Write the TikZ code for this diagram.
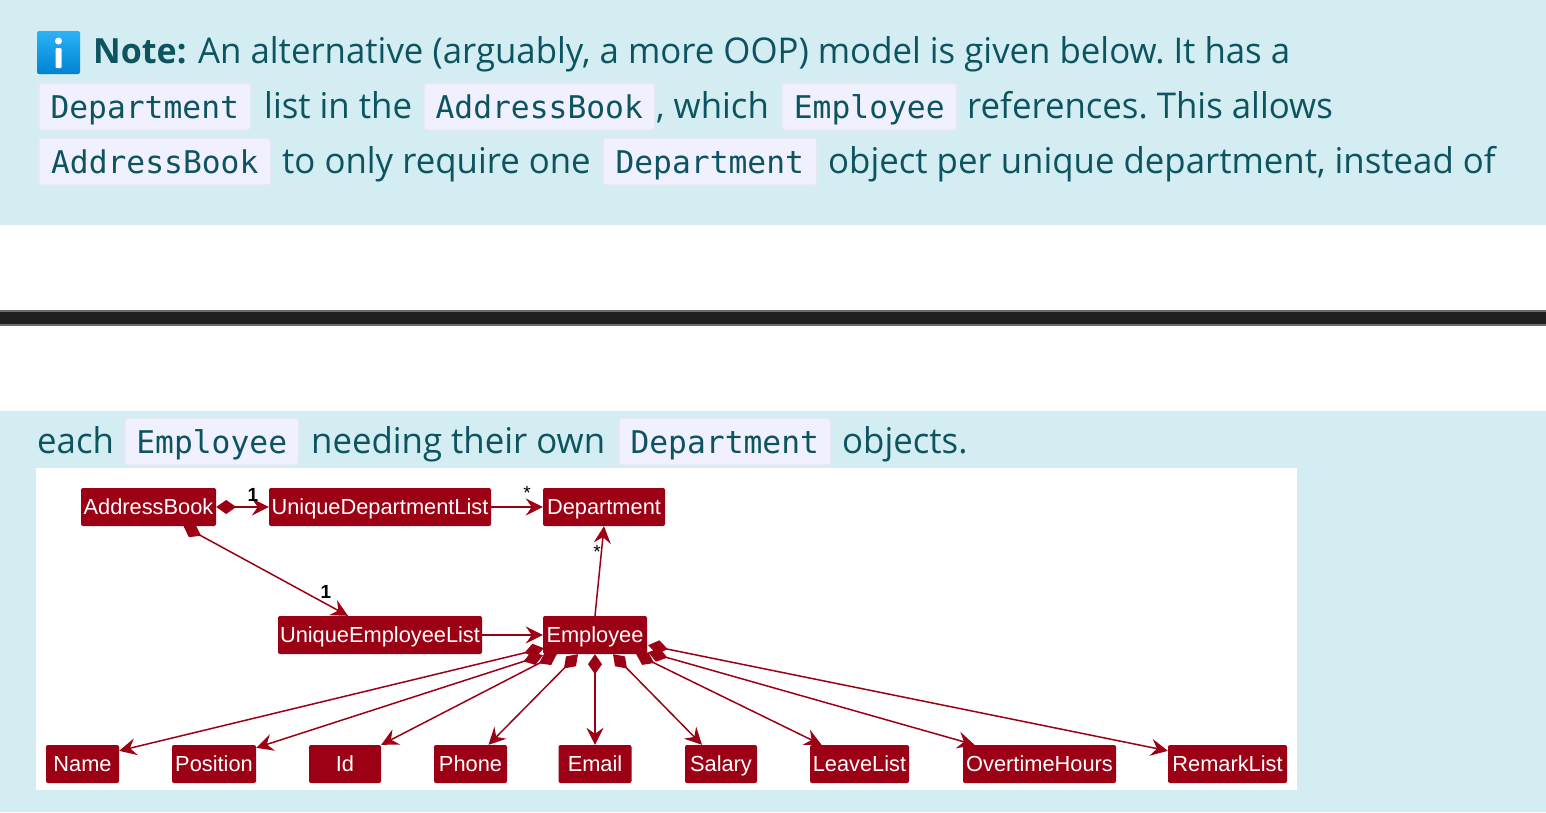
\documentclass[tikz,border=0pt]{standalone}
\usepackage{fontspec}
\setmainfont[FakeStretch=0.98]{Open Sans}
\setsansfont{Liberation Sans}
\setmonofont{DejaVu Sans Mono}
\usetikzlibrary{positioning, arrows.meta}
\definecolor{noteband}{HTML}{D4EDF2}
\definecolor{notetext}{HTML}{0C5460}
\definecolor{chipfill}{HTML}{F0F0FF}
\definecolor{chipline}{HTML}{E6E8F0}
\definecolor{umlred}{HTML}{9C0014}
\definecolor{iconhi}{HTML}{2BB3F6}
\definecolor{iconlo}{HTML}{0082D2}
\frenchspacing

\begin{document}
\begin{tikzpicture}[
    x=1pt, y=-1pt,
    para/.style={
        anchor=base west, inner sep=0pt, text=notetext,
        font=\rmfamily\fontsize{35.5}{35.5}\selectfont,
    },
    chip/.style={
        anchor=base west, draw=chipline, fill=chipfill, text=notetext, line width=1.5pt,
        rounded corners=3pt, inner xsep=0pt, inner ysep=0pt,
        text height=35pt, text depth=12pt, align=center,
        font=\ttfamily\fontsize{31.3}{31.3}\selectfont,
    },
    cls/.style={
        fill=umlred, text=white, rounded corners=2pt, inner sep=0pt,
        text height=26pt, text depth=12pt, align=center,
        font=\sffamily\fontsize{21.8}{21.8}\selectfont,
    },
    assoc/.style={-{Stealth[length=17pt, width=17pt, inset=6pt]}, line width=1.5pt, draw=umlred},
    comp/.style={
        {Diamond[length=20pt, width=14pt]}-{Stealth[length=17pt, width=17pt, inset=6pt]},
        line width=1.5pt, draw=umlred,
    },
    mult/.style={inner sep=0pt, text=black, font=\sffamily\fontsize{19}{19}\selectfont},
]
\useasboundingbox (0, 0) rectangle (1546, 812);

% ===== Bands and page break =====
\fill[noteband] (0, 0) rectangle (1546, 225);
\fill[noteband] (0, 411) rectangle (1546, 812);
\fill[black!58] (0, 310) rectangle (1546, 326);
\fill[black!88] (0, 312) rectangle (1546, 324);
\fill[white] (36, 468) rectangle (1297, 790);

% ===== Info icon =====
\shade[top color=iconhi, bottom color=iconlo, rounded corners=2pt] (37, 31) rectangle (80, 74);
\fill[white] (58.5, 41) circle (3.5);
\fill[white, rounded corners=1pt] (55.5, 48) rectangle (61.5, 68);

% ===== Note text =====
\node[para, font=\rmfamily\bfseries\fontsize{34.7}{34.7}\selectfont] (noteword) at (93, 63) {Note:};
\node[para] (lineone) at (198, 63) {An alternative (arguably, a more OOP) model is given below. It has a};

\node[chip, minimum width=212pt] (deptone) at (38, 118) {Department};
\node[para] (listin) at (264, 118) {list in the};
\node[chip, minimum width=231pt] (bookone) at (423, 118) {AddressBook};
\node[para] (which) at (656, 118) {, which};
\node[chip, minimum width=175pt] (empone) at (781, 118) {Employee};
\node[para] (refs) at (967, 118) {references. This allows};

\node[chip, minimum width=232pt] (booktwo) at (38, 173) {AddressBook};
\node[para] (torequire) at (282, 173) {to only require one};
\node[chip, minimum width=214pt] (depttwo) at (602, 173) {Department};
\node[para] (perunique) at (828, 173) {object per unique department, instead of};

\node[para] (each) at (37, 453) {each};
\node[chip, minimum width=174pt] (emptwo) at (124, 453) {Employee};
\node[para] (needing) at (311, 453) {needing their own};
\node[chip, minimum width=212pt] (deptthree) at (618, 453) {Department};
\node[para] (objects) at (842, 453) {objects.};

% ===== Class boxes =====
\node[cls, minimum width=135pt] (book)  at (148.5, 507) {AddressBook};
\node[cls, minimum width=222pt] (udl)   at (380, 507)   {UniqueDepartmentList};
\node[cls, minimum width=122pt] (dept)  at (604, 507)   {Department};
\node[cls, minimum width=204pt] (uel)   at (380, 635)   {UniqueEmployeeList};
\node[cls, minimum width=104pt] (emp)   at (595, 635)   {Employee};

\node[cls, minimum width=73pt]  (name)     at (82.5, 764)   {Name};
\node[cls, minimum width=84pt]  (position) at (214, 764)    {Position};
\node[cls, minimum width=72pt]  (idbox)    at (345, 764)    {Id};
\node[cls, minimum width=73pt]  (phone)    at (470.5, 764)  {Phone};
\node[cls, minimum width=73pt]  (email)    at (595, 764)    {Email};
\node[cls, minimum width=72pt]  (salary)   at (721, 764)    {Salary};
\node[cls, minimum width=99pt]  (leave)    at (859.5, 764)  {LeaveList};
\node[cls, minimum width=153pt] (overtime) at (1039.5, 764) {OvertimeHours};
\node[cls, minimum width=119pt] (remark)   at (1227.5, 764) {RemarkList};

% ===== Connectors =====
\draw[comp] (book.east) -- (udl.west);
\draw[assoc] (udl.east) -- (dept.west);
\draw[comp] (book.south) ++(35, 0) -- ([xshift=-32pt]uel.north);
\draw[assoc] (uel.east) -- (emp.west);
\draw[assoc] (emp.north) -- (dept.south);

\draw[comp] (emp.south west) ++(1, -6) -- ([yshift=-6pt]name.north east);
\draw[comp] (emp.south west) ++(0, 1) -- ([yshift=-3pt]position.north east);
\draw[comp] (emp.south west) ++(14, 0) -- (idbox.north east);
\draw[comp] (emp.south) ++(-17, 0) -- ([xshift=18pt]phone.north);
\draw[comp] (emp.south) -- (email.north);
\draw[comp] (emp.south) ++(18, 0) -- ([xshift=-19pt]salary.north);
\draw[comp] (emp.south east) ++(-11, 0) -- ([xshift=-38pt]leave.north);
\draw[comp] (emp.south east) ++(1, -2) -- ([xshift=-65pt]overtime.north);
\draw[comp] (emp.south east) ++(1, -9) -- ([yshift=-6pt]remark.north west);

% ===== Multiplicities =====
\node[mult, font=\sffamily\bfseries\fontsize{19}{19}\selectfont] (onea) at (253, 495) {1};
\node[mult] (stara) at (527, 493) {*};
\node[mult] (starb) at (597, 552) {*};
\node[mult, font=\sffamily\bfseries\fontsize{19}{19}\selectfont] (oneb) at (326, 592) {1};
\end{tikzpicture}
\end{document}
